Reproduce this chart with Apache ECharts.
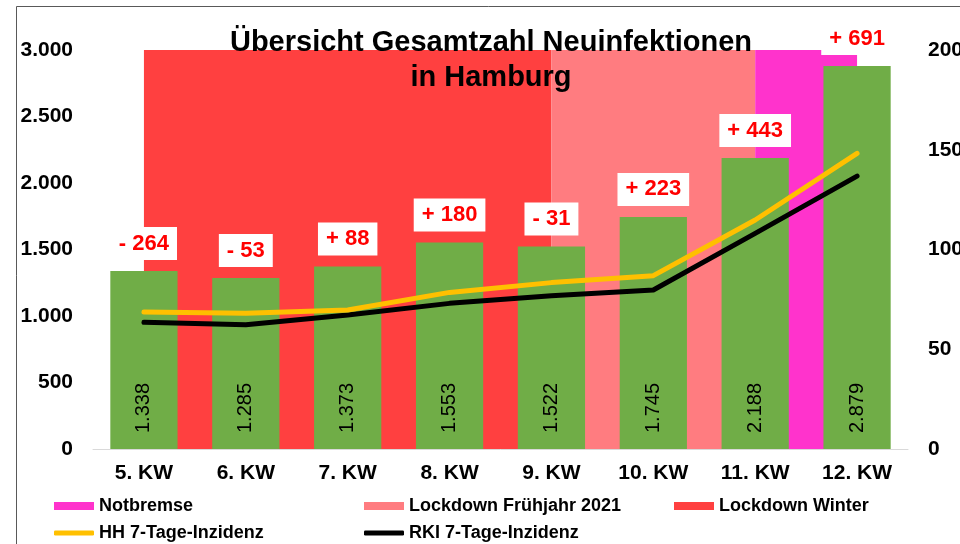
<!DOCTYPE html>
<html>
<head>
<meta charset="utf-8">
<script src="https://cdn.jsdelivr.net/npm/echarts@6/dist/echarts.min.js"></script>
<style>html,body{margin:0;padding:0;background:#fff}#c{width:960px;height:544px}</style>
</head>
<body>
<div id="c"></div>
<script>
const categories = ['5. KW','6. KW','7. KW','8. KW','9. KW','10. KW','11. KW','12. KW'];
const totals = [1338, 1285, 1373, 1553, 1522, 1745, 2188, 2879];
const changes = [-264, -53, 88, 180, -31, 223, 443, 691];
const hhIncidence = [68.7, 68, 69.7, 78.5, 83.4, 86.9, 114.8, 148.2];
const rkiIncidence = [63.5, 62.3, 67.2, 73, 76.8, 79.7, 108.1, 136.8];
const leftTicks = {min: 0, max: 3000, interval: 500};
const rightTicks = {min: 0, max: 200, interval: 50};
const periodWinter = ['5. KW', '9. KW'];
const periodSpring = ['9. KW', '11. KW'];
const periodNotbremse = ['11. KW', '12. KW'];

const FONT = "'Liberation Sans', Arial, sans-serif";
function fmtThousands(v) {
  if (v >= 1000) return Math.floor(v / 1000) + '.' + String(v % 1000).padStart(3, '0');
  return String(v);
}
function periodArea(p) {
  return [[{xAxis: p[0], yAxis: leftTicks.min}, {xAxis: p[1], yAxis: leftTicks.max}]];
}
function legendItem(name, left, top, icon, h) {
  return {
    data: [name], left: left, top: top, padding: 0, itemWidth: 40, itemHeight: h,
    icon: icon, selectedMode: false,
    textStyle: {fontFamily: FONT, fontWeight: 'bold', fontSize: 18, color: '#000', lineHeight: 20}
  };
}
const chart = echarts.init(document.getElementById('c'), null, {renderer: 'canvas'});
chart.setOption({
  animation: false,
  backgroundColor: '#fff',
  title: {
    text: 'Übersicht Gesamtzahl Neuinfektionen\nin Hamburg',
    left: 491, textAlign: 'center', top: 25, padding: 0,
    textStyle: {fontFamily: FONT, fontWeight: 'bold', fontSize: 29, lineHeight: 35, color: '#000'}
  },
  graphic: [{
    type: 'rect', shape: {x: 16.5, y: 6.5, width: 1000, height: 600},
    style: {fill: 'none', stroke: '#595959', lineWidth: 1}, silent: true, z: 100
  }],
  legend: [
    legendItem('Notbremse', 54, 496, 'rect', 8),
    legendItem('Lockdown Frühjahr 2021', 364, 496, 'rect', 8),
    legendItem('Lockdown Winter', 674, 496, 'rect', 8),
    legendItem('HH 7-Tage-Inzidenz', 54, 523, 'roundRect', 5),
    legendItem('RKI 7-Tage-Inzidenz', 364, 523, 'roundRect', 5)
  ],
  grid: {left: 93, right: 52, top: 50, bottom: 95, outerBoundsMode: 'none', containLabel: false},
  xAxis: {
    type: 'category', data: categories,
    axisLine: {lineStyle: {color: '#D9D9D9', width: 1}},
    axisTick: {show: false},
    axisLabel: {fontFamily: FONT, fontWeight: 'bold', fontSize: 21, color: '#000', margin: 14}
  },
  yAxis: [{
    type: 'value', min: leftTicks.min, max: leftTicks.max, interval: leftTicks.interval,
    axisLine: {show: false}, axisTick: {show: false}, splitLine: {show: false},
    axisLabel: {fontFamily: FONT, fontWeight: 'bold', fontSize: 21, color: '#000', margin: 20, formatter: fmtThousands}
  }, {
    type: 'value', min: rightTicks.min, max: rightTicks.max, interval: rightTicks.interval,
    axisLine: {show: false}, axisTick: {show: false}, splitLine: {show: false},
    axisLabel: {fontFamily: FONT, fontWeight: 'bold', fontSize: 21, color: '#000', margin: 20}
  }],
  series: [
    {name: 'Lockdown Winter', type: 'line', data: [], color: '#FF4040', itemStyle: {color: '#FF4040'},
     markArea: {silent: true, z: 0, itemStyle: {color: '#FF4040'}, data: periodArea(periodWinter)}},
    {name: 'Lockdown Frühjahr 2021', type: 'line', data: [], color: '#FF7C80', itemStyle: {color: '#FF7C80'},
     markArea: {silent: true, z: 0, itemStyle: {color: '#FF7C80'}, data: periodArea(periodSpring)}},
    {name: 'Notbremse', type: 'line', data: [], color: '#FF33CC', itemStyle: {color: '#FF33CC'},
     markArea: {silent: true, z: 0, itemStyle: {color: '#FF33CC'}, data: periodArea(periodNotbremse)}},
    {
      name: 'Gesamtzahl', type: 'bar', data: totals, barCategoryGap: '34%', z: 3,
      itemStyle: {color: '#70AD47'},
      label: {
        show: true, position: 'insideBottom', distance: 16, rotate: 90, align: 'left', verticalAlign: 'middle',
        fontFamily: FONT, fontSize: 20, color: '#000', formatter: p => fmtThousands(p.value)
      }
    },
    {
      name: 'Veränderung', type: 'bar', data: totals, barGap: '-100%', barCategoryGap: '34%', z: 6, silent: true,
      itemStyle: {color: 'rgba(0,0,0,0)'},
      label: {
        show: true, position: 'top', distance: 11,
        backgroundColor: '#fff', padding: [4, 8, 4, 8],
        fontFamily: FONT, fontWeight: 'bold', fontSize: 22, lineHeight: 25, color: '#FF0000',
        formatter: p => { const v = changes[p.dataIndex]; return v < 0 ? '- ' + Math.abs(v) : '+ ' + v; }
      }
    },
    {name: 'RKI 7-Tage-Inzidenz', type: 'line', yAxisIndex: 1, data: rkiIncidence, symbol: 'none', z: 4,
     color: '#000', itemStyle: {color: '#000'}, lineStyle: {color: '#000', width: 5, cap: 'round', join: 'round'}},
    {name: 'HH 7-Tage-Inzidenz', type: 'line', yAxisIndex: 1, data: hhIncidence, symbol: 'none', z: 4,
     color: '#FFC000', itemStyle: {color: '#FFC000'}, lineStyle: {color: '#FFC000', width: 5, cap: 'round', join: 'round'}}
  ]
});
</script>
</body>
</html>
